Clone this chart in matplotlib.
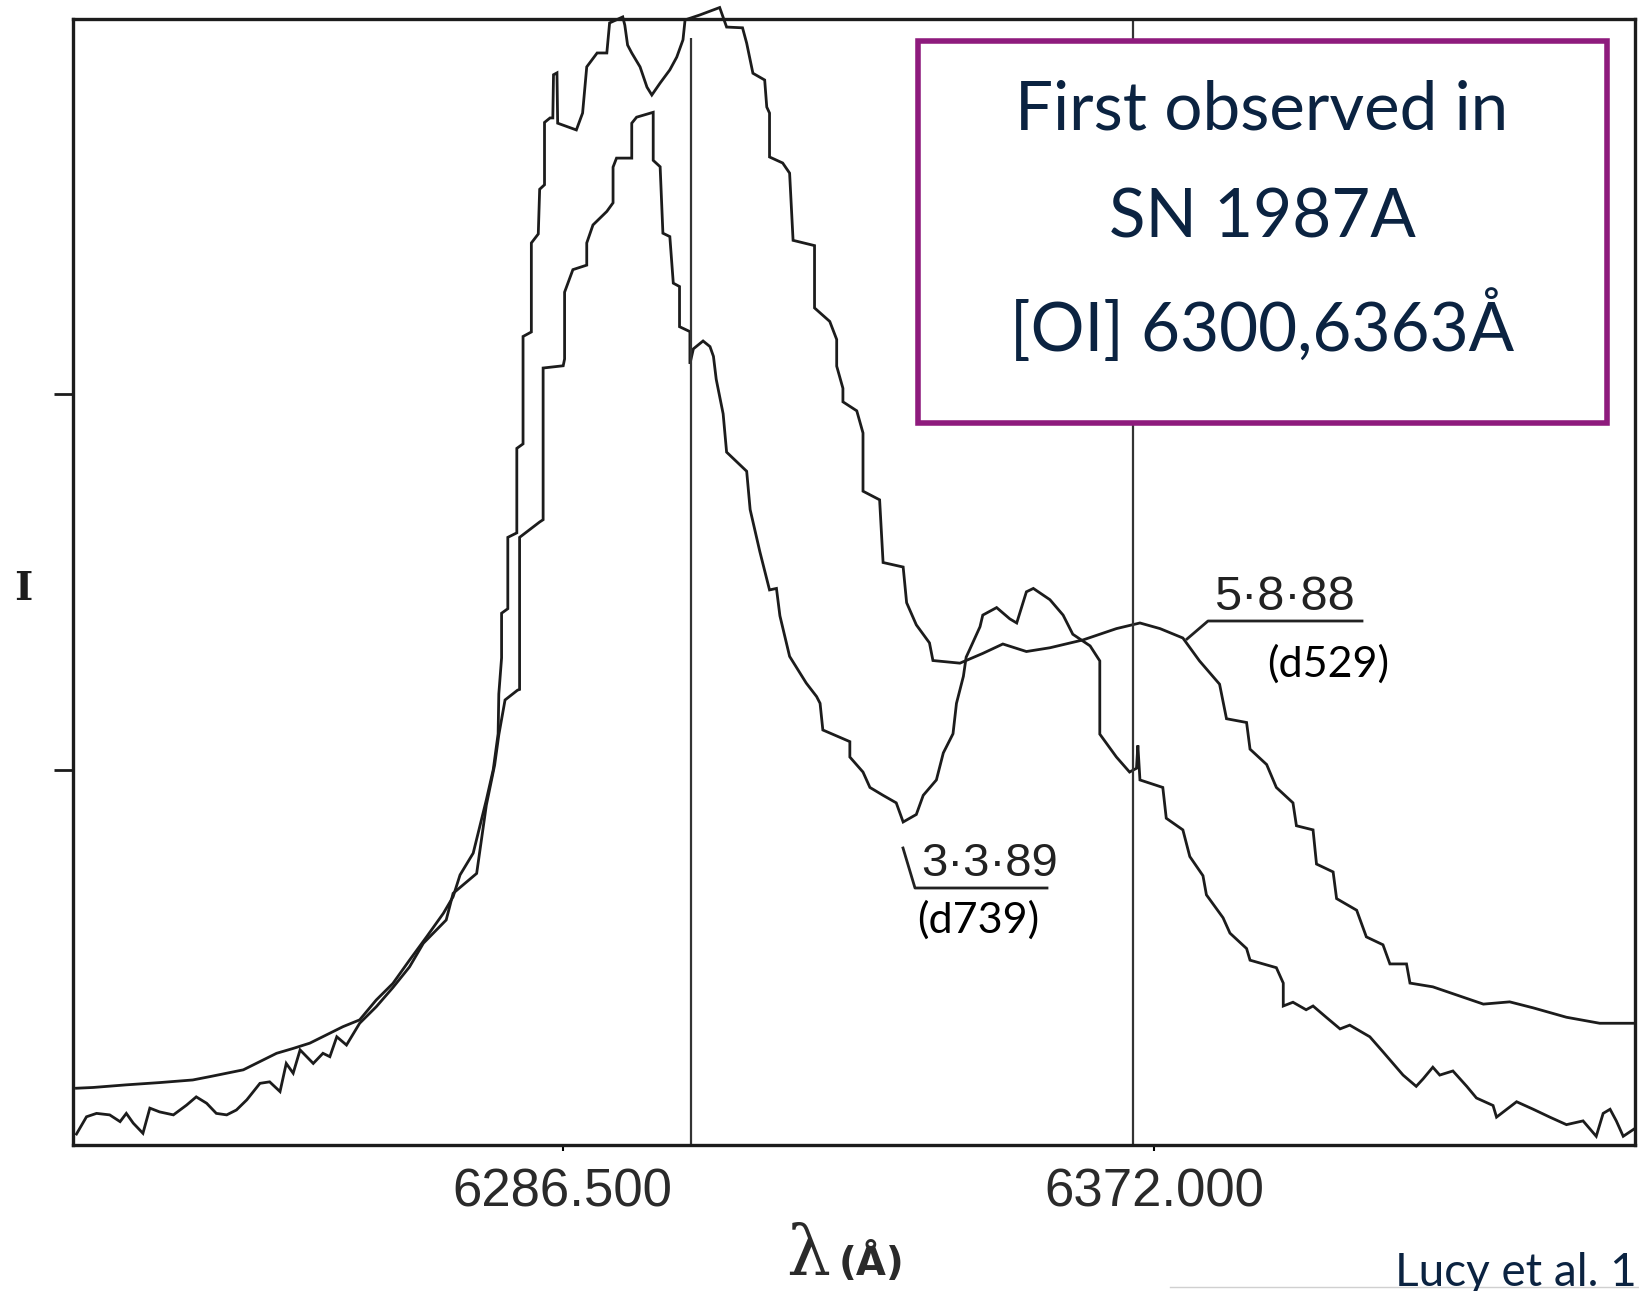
import matplotlib
matplotlib.use("Agg")
import matplotlib.pyplot as plt
from matplotlib.lines import Line2D
from matplotlib.patches import Rectangle

# ---------------- data ----------------
# spectrum of 5.8.88 (day 529)
a_wl = [6216.3, 6218.7, 6223.5, 6228.3, 6233.1, 6235.6, 6238.0, 6240.4, 6242.8, 6245.2,
        6247.6, 6250.0, 6252.4, 6254.8, 6257.2, 6259.6, 6262.0, 6264.4, 6266.9, 6269.3,
        6270.7, 6271.7, 6273.6, 6275.5, 6276.5, 6277.2, 6277.3, 6277.7, 6277.7, 6278.6,
        6278.6, 6279.9, 6279.9, 6280.8, 6280.8, 6282.0, 6282.0, 6283.0, 6283.2, 6283.9,
        6283.9, 6284.7, 6285.1, 6285.2, 6285.7, 6285.8, 6288.5, 6289.4, 6290.0, 6291.5,
        6292.9, 6293.3, 6295.2, 6295.5, 6295.9, 6296.5, 6297.7, 6298.7, 6299.4, 6300.6,
        6302.0, 6303.0, 6303.9, 6304.2, 6306.3, 6309.2, 6310.2, 6312.5, 6313.1, 6313.6,
        6314.0, 6315.7, 6316.0, 6316.4, 6316.4, 6318.3, 6319.3, 6319.8, 6322.9, 6322.9,
        6325.1, 6326.1, 6326.1, 6327.0, 6327.0, 6329.0, 6329.9, 6329.9, 6332.3, 6332.8,
        6335.7, 6336.2, 6337.6, 6339.5, 6340.0, 6343.9, 6347.2, 6350.1, 6353.5, 6356.9,
        6361.7, 6366.5, 6369.9, 6372.8, 6376.1, 6378.5, 6381.4, 6382.4, 6385.3, 6385.8,
        6388.2, 6389.6, 6392.0, 6392.5, 6394.9, 6395.4, 6397.8, 6398.3, 6401.2, 6402.6,
        6405.0, 6406.0, 6408.4, 6408.9, 6412.2, 6417.1, 6419.5, 6423.3, 6426.7, 6431.5,
        6436.3, 6441.4]
a_flux = [0.152, 0.154, 0.161, 0.167, 0.174, 0.183, 0.192, 0.201, 0.223, 0.245,
          0.258, 0.272, 0.294, 0.316, 0.334, 0.387, 0.431, 0.493, 0.556, 0.618,
          0.662, 0.720, 0.778, 0.920, 1.001, 1.096, 1.202, 1.298, 1.417, 1.429,
          1.619, 1.631, 1.856, 1.868, 2.154, 2.166, 2.403, 2.427, 2.546, 2.558,
          2.724, 2.736, 2.736, 2.851, 2.856, 2.722, 2.704, 2.749, 2.872, 2.909,
          2.909, 2.989, 3.005, 2.983, 2.930, 2.909, 2.872, 2.818, 2.797, 2.829,
          2.864, 2.898, 2.944, 2.997, 3.010, 3.030, 2.978, 2.976, 2.935, 2.890,
          2.855, 2.837, 2.765, 2.749, 2.632, 2.616, 2.589, 2.410, 2.396, 2.230,
          2.194, 2.146, 2.075, 2.016, 1.980, 1.956, 1.897, 1.742, 1.719, 1.552,
          1.540, 1.445, 1.386, 1.338, 1.291, 1.284, 1.310, 1.335, 1.315, 1.325,
          1.346, 1.376, 1.391, 1.376, 1.351, 1.290, 1.228, 1.136, 1.126, 1.055,
          1.014, 0.953, 0.912, 0.851, 0.840, 0.749, 0.728, 0.657, 0.626, 0.555,
          0.534, 0.483, 0.483, 0.432, 0.422, 0.391, 0.376, 0.382, 0.366, 0.341,
          0.325, 0.325]

# spectrum of 3.3.89 (day 739)
b_wl = [6216.3, 6217.75, 6219.2, 6221.1, 6222.6, 6223.5, 6224.5, 6225.9, 6226.9, 6228.3,
        6230.3, 6232.2, 6233.6, 6235.1, 6236.5, 6238.0, 6239.4, 6240.9, 6242.8, 6244.2,
        6245.7, 6246.6, 6247.6, 6248.6, 6250.5, 6251.9, 6252.9, 6253.9, 6255.3, 6257.2,
        6259.6, 6262.0, 6264.4, 6266.4, 6269.7, 6270.7, 6274.1, 6275.5, 6276.7, 6277.3,
        6278.2, 6280.0, 6280.3, 6280.3, 6283.2, 6283.7, 6283.7, 6286.6, 6286.8, 6286.8,
        6288.0, 6290.0, 6290.0, 6290.9, 6292.9, 6293.8, 6293.8, 6294.3, 6296.5, 6296.5,
        6297.2, 6299.6, 6299.6, 6300.6, 6301.0, 6302.0, 6302.5, 6303.4, 6303.4, 6304.9,
        6304.9, 6305.4, 6306.8, 6307.8, 6308.3, 6308.7, 6309.7, 6310.2, 6313.1, 6313.6,
        6315.0, 6316.4, 6317.4, 6317.9, 6319.3, 6321.7, 6323.2, 6323.7, 6324.1, 6328.0,
        6328.0, 6329.9, 6330.9, 6332.8, 6334.7, 6335.7, 6337.6, 6338.6, 6340.5, 6341.5,
        6342.9, 6343.4, 6344.4, 6344.8, 6345.3, 6346.8, 6347.2, 6349.2, 6351.1, 6352.1,
        6353.5, 6354.5, 6356.9, 6358.8, 6360.2, 6362.7, 6364.1, 6364.1, 6366.5, 6368.4,
        6369.4, 6369.6, 6369.9, 6373.2, 6373.7, 6376.1, 6377.1, 6379.0, 6379.5, 6381.9,
        6382.9, 6385.3, 6385.8, 6389.6, 6390.6, 6390.6, 6392.0, 6393.9, 6394.9, 6396.8,
        6398.8, 6400.2, 6403.1, 6405.0, 6407.9, 6409.8, 6410.8, 6412.2, 6413.2, 6415.1,
        6417.1, 6418.5, 6420.9, 6421.4, 6424.3, 6426.7, 6429.1, 6431.5, 6433.9, 6435.8,
        6436.8, 6437.8, 6438.7, 6439.7, 6441.4]
b_flux = [0.030, 0.076, 0.085, 0.081, 0.063, 0.085, 0.059, 0.032, 0.099, 0.089,
          0.081, 0.107, 0.129, 0.112, 0.085, 0.081, 0.094, 0.121, 0.165, 0.169,
          0.143, 0.218, 0.192, 0.254, 0.218, 0.245, 0.236, 0.289, 0.267, 0.325,
          0.369, 0.420, 0.475, 0.538, 0.600, 0.671, 0.724, 0.906, 1.013, 1.093,
          1.186, 1.212, 1.214, 1.619, 1.660, 1.666, 2.070, 2.076, 2.094, 2.272,
          2.332, 2.344, 2.403, 2.451, 2.487, 2.510, 2.605, 2.629, 2.629, 2.722,
          2.738, 2.751, 2.623, 2.606, 2.429, 2.420, 2.296, 2.287, 2.180, 2.167,
          2.081, 2.121, 2.142, 2.127, 2.101, 2.040, 1.948, 1.846, 1.795, 1.693,
          1.581, 1.479, 1.483, 1.410, 1.302, 1.231, 1.195, 1.177, 1.106, 1.075,
          1.034, 0.994, 0.953, 0.932, 0.912, 0.861, 0.881, 0.932, 0.973, 1.045,
          1.096, 1.177, 1.249, 1.300, 1.320, 1.381, 1.412, 1.432, 1.402, 1.391,
          1.474, 1.483, 1.453, 1.412, 1.361, 1.330, 1.290, 1.095, 1.034, 0.994,
          1.004, 1.065, 0.973, 0.953, 0.871, 0.840, 0.769, 0.718, 0.667, 0.606,
          0.565, 0.524, 0.493, 0.473, 0.432, 0.371, 0.381, 0.361, 0.371, 0.341,
          0.310, 0.320, 0.289, 0.249, 0.187, 0.157, 0.177, 0.208, 0.187, 0.198,
          0.157, 0.126, 0.106, 0.075, 0.116, 0.096, 0.075, 0.055, 0.065, 0.024,
          0.085, 0.096, 0.065, 0.024, 0.045]

assert len(a_wl) == len(a_flux), (len(a_wl), len(a_flux))
assert len(b_wl) == len(b_flux), (len(b_wl), len(b_flux))

marker_wl = [6305.1, 6368.9]          # vertical reference lines
xtick_vals = [6286.5, 6372.0]
xtick_labels = ["6286.500", "6372.000"]
ytick_vals = [1, 2]
x_range = [6215.8, 6441.4]
y_range = [0, 3]

box_lines = ["First observed in", "SN 1987A", "[OI] 6300,6363Å"]
label_a, label_a_day = "5·8·88", "(d529)"
label_b, label_b_day = "3·3·89", "(d739)"
credit = "Lucy et al. 1"   # as visible on the slide (cut at the edge)

# ---------------- figure ----------------
W, H = 1640, 1291
fig = plt.figure(figsize=(W / 100, H / 100), dpi=100)
fig.patch.set_facecolor("white")

def fx(px):
    return px / W

def fy(py):
    return 1 - py / H

ink = "#1c1c1c"
ax = fig.add_axes([fx(73), fy(1145.3), fx(1635) - fx(73), (1145.3 - 18.8) / H])
ax.set_xlim(*x_range)
ax.set_ylim(*y_range)

ax.plot(a_wl, a_flux, color=ink, lw=2.0, solid_joinstyle="miter", clip_on=False)
ax.plot(b_wl, b_flux, color=ink, lw=2.0, solid_joinstyle="miter", clip_on=False)
ax.vlines(marker_wl, 0, [2.95, 3.0], color="#333333", lw=1.6)

for s in ax.spines.values():
    s.set_linewidth(2.4)
    s.set_color(ink)

ax.set_xticks(xtick_vals)
ax.set_xticklabels(xtick_labels, fontsize=38, family="Liberation Sans", color="#2a2a2a")
ax.tick_params(axis="x", length=4, width=1.5, direction="out", pad=12)
ax.set_yticks(ytick_vals)
ax.set_yticklabels([])
ax.tick_params(axis="y", length=14, width=2, direction="out", color=ink)

# axis labels (scanned style)
fig.text(fx(23), fy(589), "I", fontsize=28, family="DejaVu Serif", weight="bold",
         ha="center", va="center", color=ink)
fig.text(fx(808), fy(1256), "λ", fontsize=50, family="DejaVu Serif",
         ha="center", va="center", color="#2a2a2a")
fig.text(fx(872), fy(1262), "(Å)", fontsize=28, family="DejaVu Sans", weight="bold",
         ha="center", va="center", color="#2a2a2a")

# curve labels from the original scan
fig.text(fx(1284), fy(598), label_a, fontsize=35, family="Liberation Sans",
         ha="center", va="center", color="#222222")
fig.add_artist(Line2D([fx(1187), fx(1208), fx(1362)], [fy(639), fy(621), fy(621)],
                      color="#222222", lw=2.0))
fig.text(fx(990), fy(864), label_b, fontsize=34, family="Liberation Sans",
         ha="center", va="center", color="#222222")
fig.add_artist(Line2D([fx(903), fx(915), fx(1047)], [fy(848), fy(888), fy(888)],
                      color="#222222", lw=2.0))

# added day labels
fig.text(fx(1328), fy(664), label_a_day, fontsize=31, family="Lato",
         ha="center", va="center", color="black")
fig.text(fx(978), fy(920), label_b_day, fontsize=31, family="Lato",
         ha="center", va="center", color="black")

# highlighted box
fig.add_artist(Rectangle((fx(918), fy(423)), fx(1607) - fx(918), (423 - 41) / H,
                         transform=fig.transFigure, facecolor="white",
                         edgecolor="#8E1B7D", lw=4, zorder=5))
for i, t in enumerate(box_lines):
    fig.text(fx(1262), fy(110 + 108 * i), t, fontsize=48.5, family="Lato",
             ha="center", va="center", color="#0B2341", zorder=6)

# credit
fig.add_artist(Line2D([fx(1170), fx(1640)], [fy(1287), fy(1287)], color="#d0d0d0", lw=1))
fig.text(fx(1637), fy(1286), credit, fontsize=33, family="Lato",
         ha="right", va="baseline", color="#0B2341")

fig.savefig("out.png", dpi=100, facecolor="white")
